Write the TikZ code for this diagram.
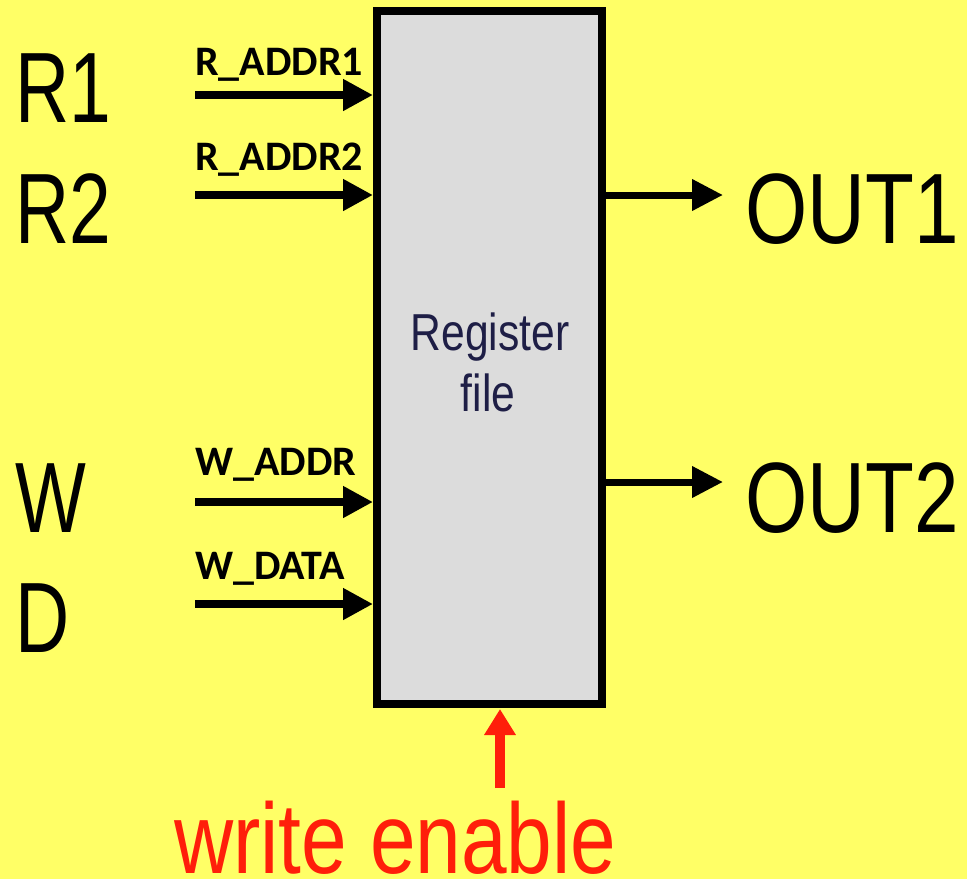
\documentclass[tikz,border=0pt]{standalone}
\usepackage{fontspec}
\setmainfont{Liberation Sans}
\newfontfamily\carlitofont{Carlito}
\usetikzlibrary{arrows.meta}
\definecolor{bgyellow}{RGB}{255,255,102}
\definecolor{boxgray}{RGB}{220,220,220}
\definecolor{navytext}{RGB}{30,30,70}
\definecolor{wered}{RGB}{255,30,10}
\newcommand{\sqz}[1]{\scalebox{0.82}[1]{#1}}
\newcommand{\sqzr}[1]{\scalebox{0.75}[1]{#1}}
\newcommand{\sqzo}[1]{\scalebox{0.80}[1]{#1}}
\begin{document}
\begin{tikzpicture}[x=1pt,y=-1pt,
  big/.style={inner sep=0pt, anchor=base west, font=\fontsize{100}{100}\selectfont},
  sig/.style={inner sep=0pt, anchor=base west, font=\carlitofont\bfseries\fontsize{42}{42}\selectfont},
  bus/.style={line width=8pt, -{Triangle[length=30pt,width=30pt]}},
  outbus/.style={line width=7pt, -{Triangle[length=31pt,width=30pt]}},
  regbox/.style={draw=black, line width=8pt, fill=boxgray, minimum width=225pt, minimum height=693pt, inner sep=0pt},
  boxtext/.style={inner sep=0pt, anchor=base, text=navytext, font=\fontsize{52}{52}\selectfont}
]
\fill[bgyellow] (0,0) rectangle (967,879);
\useasboundingbox (0,0) rectangle (967,879);

\node[regbox] (rf) at (489.5,357.5) {};
\node[boxtext] (reg) at (490,350.7) {\sqz{Register}};
\node[boxtext] (file) at (488,411.7) {\sqz{file}};

% left big labels
\node[big] (r1) at (15,122) {\sqzr{R1}};
\node[big] (r2) at (15,243) {\sqzr{R2}};
\node[big] (w) at (15,532) {\sqzr{W}};
\node[big] (d) at (15,652) {\sqzr{D}};

% signal labels
\node[sig] (la1) at (195,75) {R\_ADDR1};
\node[sig] (la2) at (195,170) {R\_ADDR2};
\node[sig] (lwa) at (195,475) {W\_ADDR};
\node[sig] (lwd) at (195,579) {W\_DATA};

% input arrows
\coordinate (s1) at (195,95);
\coordinate (s2) at (195,195);
\coordinate (s3) at (195,502);
\coordinate (s4) at (195,604);
\draw[bus] (s1) -- (s1 -| rf.west);
\draw[bus] (s2) -- (s2 -| rf.west);
\draw[bus] (s3) -- (s3 -| rf.west);
\draw[bus] (s4) -- (s4 -| rf.west);

% outputs
\coordinate (o1) at (723,195);
\coordinate (o2) at (723,482);
\draw[outbus] (o1 -| rf.east) -- (o1);
\draw[outbus] (o2 -| rf.east) -- (o2);
\node[big] (out1) at (745,243) {\sqzo{OUT1}};
\node[big] (out2) at (745,532) {\sqzo{OUT2}};

% write enable
\coordinate (we) at (500,788);
\coordinate (wetip) at (500,709);
\draw[wered, line width=10pt, -{Triangle[length=26pt,width=30pt]}] (we) -- (wetip);
\node[big, text=wered] (wetext) at (174,873) {\sqz{write enable}};
\end{tikzpicture}
\end{document}
